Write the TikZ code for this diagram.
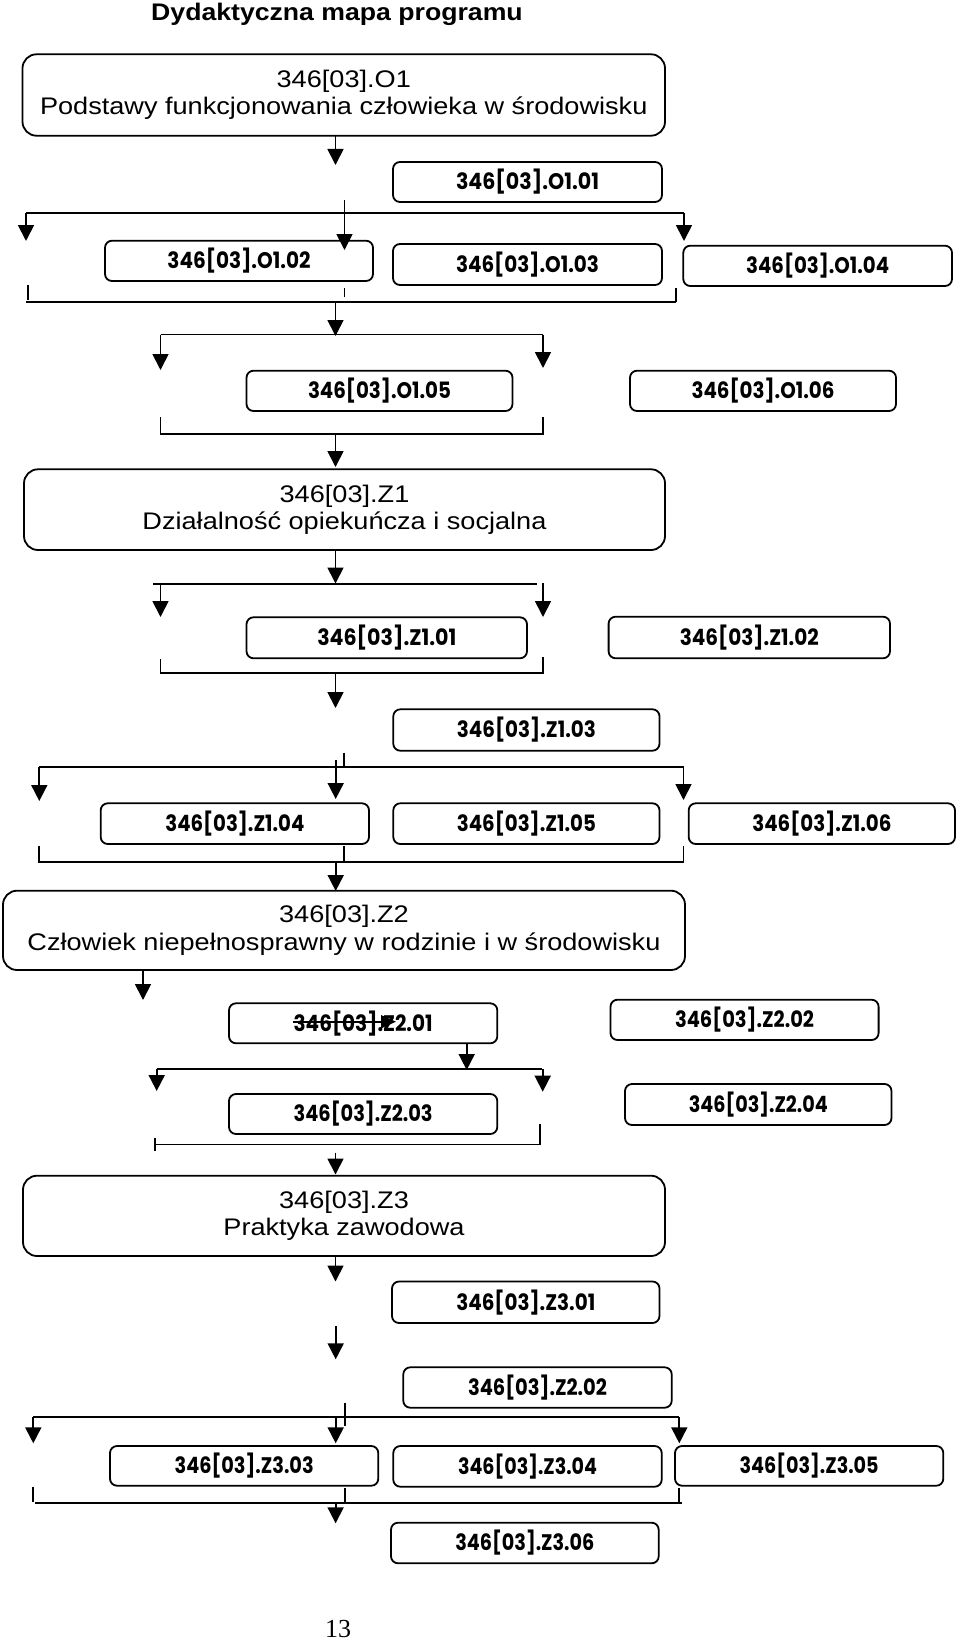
\documentclass[tikz,border=0pt]{standalone}
\usepackage{graphicx}
\usepackage{fontspec}
\setmainfont{Liberation Sans}
\newfontfamily\codefont{Poppins}
\newfontfamily\serifnum{Liberation Serif}
\usetikzlibrary{arrows.meta}
\newcommand\bl[1]{\scalebox{1.13}[1]{#1}}
\newcommand\ct[2]{\resizebox{#1pt}{\height}{#2}}
\newcommand\placebox[7]{\node[#1, minimum width={#5-#3}, minimum height={#6-#4}] (#2) at ({(#3+#5)/2},{(#4+#6)/2}) {#7};}
\tikzset{
  ln/.style={line width=1.8pt, black},
  arr/.style={ln, -{Triangle[width=16pt,length=16pt]}},
  smallarr/.style={line width=1.6pt, -{Triangle[width=13pt,length=15pt]}},
  bigbox/.style={draw, line width=1.8pt, rounded corners=14pt, inner sep=0pt, align=center, font=\fontsize{24}{27.5}\selectfont},
  smallbox/.style={draw, line width=1.8pt, rounded corners=7pt, inner sep=0pt, font=\codefont\bfseries\fontsize{22.5}{26}\selectfont},
}
\begin{document}
\begin{tikzpicture}[x=1pt,y=-1pt]
\fill[white] (0,0) rectangle (960,1640);
\useasboundingbox (0,0) rectangle (960,1640);

% title
\node[font=\bfseries\fontsize{24}{28}\selectfont, inner sep=0pt] (title) at (337,14.5) {\scalebox{1.11}[1]{Dydaktyczna mapa programu}};

% ---------- O1 ----------
\placebox{bigbox}{o1}{22.5}{54.3}{665}{135.7}{\bl{346[03].O1}\\\bl{Podstawy funkcjonowania człowieka w środowisku}}
\draw[arr] (335.5,135.7) -- (335.5,165);
\placebox{smallbox}{o101}{393}{162}{662}{202}{\ct{143}{346[03].O1.01}}
\draw[ln] (26,213.3) -- (684,213.3);
\draw[arr] (26,213.3) -- (26,241);
\draw[arr] (684,213.3) -- (684,241);
\draw[arr] (344.5,200) -- (344.5,250);
\placebox{smallbox}{o102}{105}{240.7}{373}{281}{\ct{143}{346[03].O1.02}}
\placebox{smallbox}{o103}{393}{244}{662}{285}{\ct{143}{346[03].O1.03}}
\placebox{smallbox}{o104}{683.3}{245.7}{952}{286}{\ct{143}{346[03].O1.04}}
\draw[ln] (28,285) -- (28,300);
\draw[ln] (344.5,288) -- (344.5,297);
\draw[ln] (676,288) -- (676,302.3);
\draw[ln] (26,302.3) -- (676,302.3);
\draw[arr] (335.5,302.3) -- (335.5,336);

\draw[ln] (160.5,334.5) -- (543,334.5);
\draw[arr] (160.5,334.5) -- (160.5,370);
\draw[arr] (543,334.5) -- (543,368);
\placebox{smallbox}{o105}{246.5}{370.7}{512.5}{411}{\ct{143}{346[03].O1.05}}
\placebox{smallbox}{o106}{630}{370.7}{896}{411}{\ct{143}{346[03].O1.06}}
\draw[ln] (160.5,417) |- (543,434) -- (543,417);
\draw[arr] (335.5,434) -- (335.5,467);

% ---------- Z1 ----------
\placebox{bigbox}{z1}{24}{469.3}{665}{550}{\bl{346[03].Z1}\\\bl{Działalność opiekuńcza i socjalna}}
\draw[arr] (335.5,550) -- (335.5,583.5);
\draw[ln] (153,584) -- (537,584);
\draw[arr] (160.5,584) -- (160.5,617);
\draw[arr] (543,583) -- (543,617);
\placebox{smallbox}{z101}{246.5}{617.3}{527}{658.3}{\ct{139}{346[03].Z1.01}}
\placebox{smallbox}{z102}{608.6}{616.7}{890}{658.3}{\ct{139}{346[03].Z1.02}}
\draw[ln] (160.5,659) |- (543,673.3) -- (543,657);
\draw[arr] (335.5,673.3) -- (335.5,708);
\placebox{smallbox}{z103}{393.3}{709.3}{659.5}{750.7}{\ct{139}{346[03].Z1.03}}

\draw[ln] (344.3,752.7) -- (344.3,767.3);
\draw[arr] (335.7,760) -- (335.7,799);
\draw[ln] (39.3,767.3) -- (683.5,767.3);
\draw[arr] (39.3,767.3) -- (39.3,801);
\draw[arr] (683.5,767.3) -- (683.5,800);
\placebox{smallbox}{z104}{100.7}{803.3}{369}{844}{\ct{139}{346[03].Z1.04}}
\placebox{smallbox}{z105}{393.3}{803.3}{659.5}{844}{\ct{139}{346[03].Z1.05}}
\placebox{smallbox}{z106}{688.7}{803.3}{955}{844}{\ct{139}{346[03].Z1.06}}
\draw[ln] (39.3,845.7) -- (39.3,862.3) -- (683.5,862.3) -- (683.5,846);
\draw[ln] (344.3,845.7) -- (344.3,862.3);
\draw[arr] (335.7,862.3) -- (335.7,891);

% ---------- Z2 ----------
\placebox{bigbox}{z2}{3}{890.7}{685}{970}{\bl{346[03].Z2}\\\bl{Człowiek niepełnosprawny w rodzinie i w środowisku}}
\draw[arr] (143,970) -- (143,1000);
\placebox{smallbox}{z201}{229}{1003.3}{497.3}{1043.3}{\ct{139}{346[03].Z2.01}}
\draw[smallarr] (293,1021.7) -- (396,1021.7);
\placebox{smallbox}{z202}{610.5}{999.7}{878.6}{1040}{\ct{139}{346[03].Z2.02}}
\draw[arr] (466.7,1043.3) -- (466.7,1070);
\draw[ln] (156.7,1069) -- (541.7,1069);
\draw[arr] (156.7,1069) -- (156.7,1091);
\draw[arr] (542.7,1069) -- (542.7,1091.7);
\placebox{smallbox}{z203}{229}{1094}{497.3}{1134}{\ct{139}{346[03].Z2.03}}
\placebox{smallbox}{z204}{625}{1084}{891.5}{1125}{\ct{139}{346[03].Z2.04}}
\draw[ln] (155,1137.5) -- (155,1151);
\draw[ln] (155,1144.5) -- (540,1144.5) -- (540,1124.3);
\draw[arr] (335.5,1152.5) -- (335.5,1174.5);

% ---------- Z3 ----------
\placebox{bigbox}{z3}{23}{1175.7}{665}{1256}{\bl{346[03].Z3}\\\bl{Praktyka zawodowa}}
\draw[arr] (335.5,1256) -- (335.5,1281.5);
\placebox{smallbox}{z301}{392}{1281.5}{659.5}{1323}{\ct{139}{346[03].Z3.01}}
\draw[arr] (335.7,1326) -- (335.7,1359.3);
\placebox{smallbox}{z202b}{403.3}{1367.3}{671.7}{1407.7}{\ct{139}{346[03].Z2.02}}
\draw[ln] (345,1402.7) -- (345,1426);
\draw[ln] (33.3,1417.3) -- (679.3,1417.3);
\draw[arr] (33.3,1417.3) -- (33.3,1443.3);
\draw[arr] (335.7,1417.3) -- (335.7,1443.3);
\draw[arr] (679.3,1417.3) -- (679.3,1443.3);
\placebox{smallbox}{z303}{110}{1446}{378.3}{1485.7}{\ct{139}{346[03].Z3.03}}
\placebox{smallbox}{z304}{393.3}{1446}{661.7}{1486.7}{\ct{139}{346[03].Z3.04}}
\placebox{smallbox}{z305}{675}{1446}{943.3}{1485.7}{\ct{139}{346[03].Z3.05}}
\draw[ln] (33.3,1486.7) -- (33.3,1501.7);
\draw[ln] (35,1502.7) -- (681.7,1502.7);
\draw[ln] (345,1487.7) -- (345,1502.7);
\draw[ln] (679.3,1488) -- (679.3,1502.7);
\draw[arr] (335.6,1502.7) -- (335.6,1523.3);
\placebox{smallbox}{z306}{391}{1522.7}{658.7}{1563.3}{\ct{139}{346[03].Z3.06}}

% page number
\node[font=\serifnum\fontsize{26}{30}\selectfont, inner sep=0pt] (pg) at (338,1629) {13};
\end{tikzpicture}
\end{document}
